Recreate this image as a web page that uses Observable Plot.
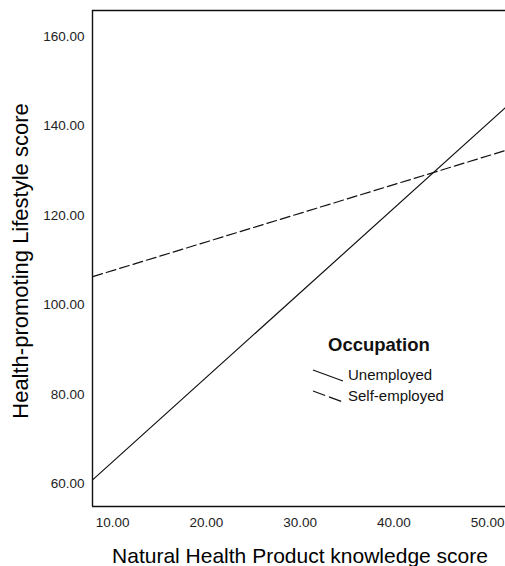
<!DOCTYPE html>
<html>
<head>
<meta charset="utf-8">
<script src="https://cdn.jsdelivr.net/npm/d3@7"></script>
<script src="https://cdn.jsdelivr.net/npm/@observablehq/plot@0.6"></script>
<style>
  html, body { margin: 0; padding: 0; background: #fff; }
  #wrap { position: relative; width: 505px; height: 566px; overflow: hidden; font-family: "Liberation Sans", Arial, sans-serif; }
  #legend { position: absolute; left: 312px; top: 333px; color: #111; }
  #legend .title { font-weight: bold; font-size: 18.5px; margin-left: 16px; line-height: 24px; margin-bottom: 7px; }
  #legend .item { display: flex; align-items: center; height: 21px; font-size: 15px; }
  #legend svg { margin-right: 4px; }
</style>
</head>
<body>
<div id="wrap"></div>
<script>
// Data
const occupations = ["Unemployed", "Self-employed"];
const knowledgeScore = [7.9, 51.9];
const unemployedScore = [60.9, 144.1];
const selfEmployedScore = [106.3, 134.5];
const xTicks = [10, 20, 30, 40, 50];
const yTicks = [60, 80, 100, 120, 140, 160];
const xDomain = [7.86, 51.9];
const yDomain = [54.9, 165.8];
const xTitle = "Natural Health Product knowledge score";
const yTitle = "Health-promoting Lifestyle score";
const legendTitle = "Occupation";

const rows = [];
knowledgeScore.forEach((x, i) => rows.push({occupation: occupations[0], x, y: unemployedScore[i]}));
knowledgeScore.forEach((x, i) => rows.push({occupation: occupations[1], x, y: selfEmployedScore[i]}));

const fmt = d3.format(".2f");

const chart = Plot.plot({
  width: 505,
  height: 566,
  marginLeft: 92,
  marginTop: 10,
  marginRight: 0,
  marginBottom: 60,
  style: {fontFamily: "'Liberation Sans', Arial, sans-serif", background: "#fff", color: "#222"},
  x: {domain: xDomain},
  y: {domain: yDomain},
  marks: [
    Plot.axisX(xTicks, {tickSize: 0, tickPadding: 11, tickFormat: fmt, fontSize: 13.5, label: null}),
    Plot.axisY(yTicks, {tickSize: 0, tickPadding: 8, tickFormat: fmt, fontSize: 13.5, label: null}),
    Plot.ruleX([xDomain[0]], {stroke: "#111", strokeWidth: 1.4}),
    Plot.ruleY([yDomain[0], yDomain[1]], {stroke: "#111", strokeWidth: 1.4}),
    Plot.line(rows.filter(d => d.occupation === occupations[0]), {x: "x", y: "y", stroke: "#111", strokeWidth: 1.2}),
    Plot.line(rows.filter(d => d.occupation === occupations[1]), {x: "x", y: "y", stroke: "#111", strokeWidth: 1.2, strokeDasharray: "10,4"}),
    Plot.text([xTitle], {frameAnchor: "bottom", dx: 1, dy: 50, textAnchor: "middle", lineAnchor: "middle", fontSize: 21, fill: "#000"}),
    Plot.text([yTitle], {frameAnchor: "left", dx: -72, dy: 2.5, rotate: -90, textAnchor: "middle", lineAnchor: "middle", fontSize: 22, fill: "#000"})
  ]
});

const wrap = document.getElementById("wrap");
wrap.appendChild(chart);

// Legend (inside plot area)
const legend = document.createElement("div");
legend.id = "legend";
const dashes = [null, "13,4"];
let html = `<div class="title">${legendTitle}</div>`;
occupations.forEach((name, i) => {
  html += `<div class="item"><svg width="32" height="14"><line x1="1" y1="2" x2="31" y2="13" stroke="#111" stroke-width="1.2" ${dashes[i] ? `stroke-dasharray="${dashes[i]}"` : ""}/></svg><span>${name}</span></div>`;
});
legend.innerHTML = html;
wrap.appendChild(legend);
</script>
</body>
</html>
